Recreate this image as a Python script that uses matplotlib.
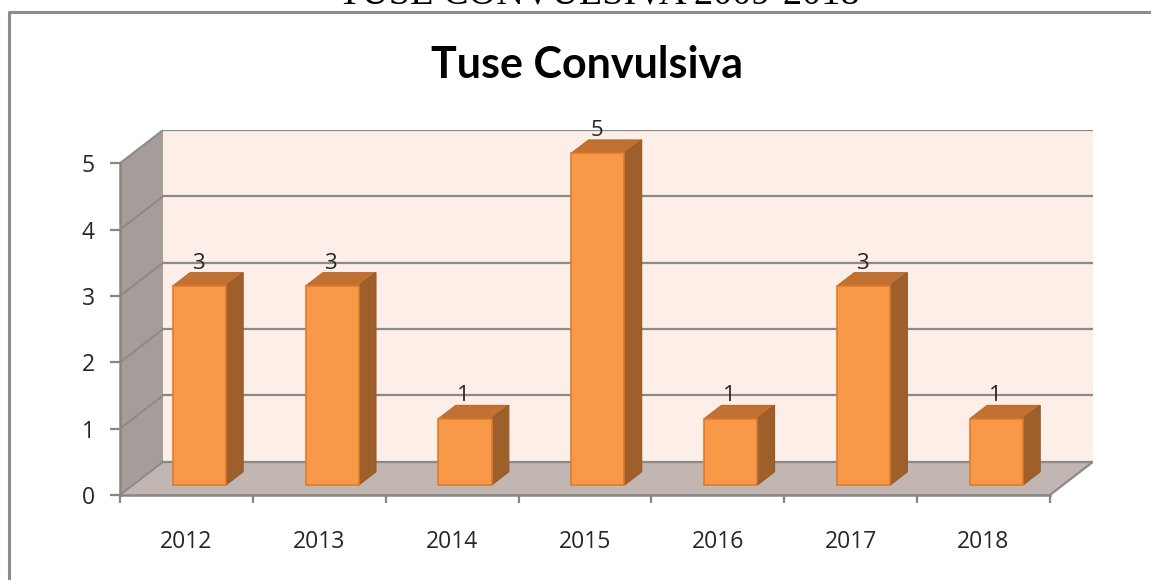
import numpy as np
import matplotlib
matplotlib.use('Agg')
import matplotlib.pyplot as plt
from matplotlib.patches import Polygon
from matplotlib.lines import Line2D

# data
years = ['2012', '2013', '2014', '2015', '2016', '2017', '2018']
cases = [3, 3, 1, 5, 1, 3, 1]
yticks = [0, 1, 2, 3, 4, 5]

W, H = 1151, 580
fig = plt.figure(figsize=(W / 100, H / 100), dpi=100)
lab_font = ['Open Sans', 'DejaVu Sans']

# pseudo 3d frame, in pixels of the picture
x0, x1, yb, yt = 120, 1093, 495, 130
ax = fig.add_axes([x0 / W, (H - yb) / H, (x1 - x0) / W, (yb - yt) / H])

ncat = len(years)
DX = 43 / (928 / ncat)    # depth shift in data units
DY = 0.5
ymax = max(yticks)
ax.set_xlim(-0.5, ncat - 0.5 + DX)
ax.set_ylim(0, ymax + DY)

grid_c = '#8a8a8a'
xl, xr = -0.5, ncat - 0.5

# side wall, floor, back wall
ax.add_patch(Polygon([(xl, 0), (xl + DX, DY), (xl + DX, ymax + DY), (xl, ymax)],
                     closed=True, fc='#a59d99', ec='none', zorder=1))
ax.add_patch(Polygon([(xl, 0), (xl + DX, DY), (xr + DX, DY), (xr, 0)],
                     closed=True, fc='#c1b6b2', ec='none', zorder=1))
ax.add_patch(Polygon([(xl + DX, DY), (xl + DX, ymax + DY), (xr + DX, ymax + DY), (xr + DX, DY)],
                     closed=True, fc='#fdeee7', ec='none', zorder=1))

for v in yticks:
    ax.plot([xl + DX, xr + DX], [v + DY, v + DY], color=grid_c, lw=1.6, zorder=2)
    ax.plot([xl, xl + DX], [v, v + DY], color=grid_c, lw=1.4, zorder=2)
ax.plot([xr, xr + DX], [0, DY], color=grid_c, lw=1.6, zorder=2)

# bars
f1, f2 = 0.3, 0.7
bw = 0.4
xs = np.arange(ncat)
front = '#f8994a'
top_c = '#c17131'
side_c = '#9f5f2b'
ax.bar(xs + f1 * DX, cases, width=bw, bottom=f1 * DY, color=front,
       edgecolor='#dd7b2e', linewidth=1.2, zorder=4)
for x, v in zip(xs, cases):
    a, b = x - bw / 2, x + bw / 2
    ax.add_patch(Polygon([(a + f1 * DX, v + f1 * DY), (b + f1 * DX, v + f1 * DY),
                          (b + f2 * DX, v + f2 * DY), (a + f2 * DX, v + f2 * DY)],
                         closed=True, fc=top_c, ec='#b86a2c', lw=0.8, zorder=3))
    ax.add_patch(Polygon([(b + f1 * DX, f1 * DY), (b + f2 * DX, f2 * DY),
                          (b + f2 * DX, v + f2 * DY), (b + f1 * DX, v + f1 * DY)],
                         closed=True, fc=side_c, ec='#965a28', lw=0.8, zorder=3))
    ax.annotate(str(v), (x + f1 * DX - 0.01, v + f2 * DY), xytext=(0, 3),
                textcoords='offset points', ha='center', va='baseline',
                fontsize=16, color='#262626', family=lab_font, zorder=5)

# axes lines and ticks
for s in ['top', 'right']:
    ax.spines[s].set_visible(False)
ax.spines['left'].set_bounds(0, ymax)
ax.spines['bottom'].set_bounds(xl, xr)
for s in ['left', 'bottom']:
    ax.spines[s].set_color('#868686')
    ax.spines[s].set_linewidth(1.8)
    ax.spines[s].set_zorder(6)

ax.set_yticks(yticks)
ax.set_yticklabels([str(t) for t in yticks], family=lab_font)
ax.tick_params(axis='y', length=7, width=1.6, color='#868686', pad=11,
               labelsize=16.5, labelcolor='#262626')
ax.set_xticks(np.arange(ncat + 1) - 0.5)
ax.set_xticklabels([])
ax.set_xticks(xs, minor=True)
ax.set_xticklabels(years, minor=True, family=lab_font)
ax.tick_params(axis='x', which='major', length=6, width=1.6, color='#868686')
ax.tick_params(axis='x', which='minor', length=0, pad=25,
               labelsize=16.5, labelcolor='#262626')

# chart title and outer frame
fig.text(587 / W, (H - 78) / H, 'Tuse Convulsiva', ha='center', va='baseline',
         fontsize=31, fontweight='bold', family=['Lato', 'DejaVu Sans'])
fig.text(599 / W, (H - 4) / H, 'TUSE CONVULSIVA 2009-2018', ha='center',
         va='baseline', fontsize=27.5, family=['Liberation Serif', 'DejaVu Serif'])
fig.add_artist(Line2D([9 / W, 9 / W, 1.0], [0, (H - 12) / H, (H - 12) / H],
                      transform=fig.transFigure, color='#8c8c8c', lw=2.2))

fig.savefig('out.png', dpi=100)
